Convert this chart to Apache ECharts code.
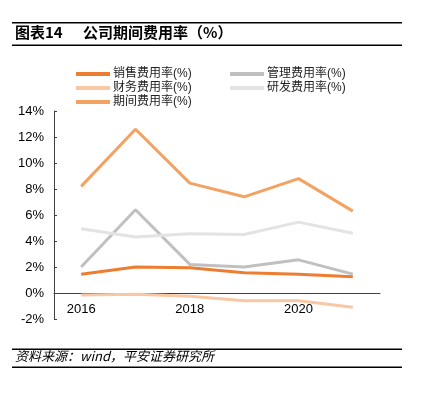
<!DOCTYPE html>
<html>
<head>
<meta charset="utf-8">
<script src="https://cdn.jsdelivr.net/npm/echarts@6/dist/echarts.min.js"></script>
<style>
html,body{margin:0;padding:0;background:#fff;}
#c{width:424px;height:395px;}
</style>
</head>
<body>
<div id="c"></div>
<script>
const categories = ['2016', '2017', '2018', '2019', '2020', '2021'];
const xLabels = ['2016', '', '2018', '', '2020', ''];
const sales = [1.45, 2.0, 1.95, 1.55, 1.45, 1.25];
const admin = [2.0, 6.4, 2.2, 2.0, 2.55, 1.45];
const finance = [-0.15, -0.1, -0.25, -0.6, -0.6, -1.1];
const rnd = [4.95, 4.3, 4.55, 4.5, 5.45, 4.6];
const period = [8.2, 12.6, 8.45, 7.4, 8.8, 6.3];
const yTicks = [-2, 0, 2, 4, 6, 8, 10, 12, 14];

const font = '"Noto Sans CJK SC", "Liberation Sans", sans-serif';
const numFont = '"Liberation Sans", "Noto Sans CJK SC", sans-serif';
const chart = echarts.init(document.getElementById('c'));
const mk = (name, data, color) => ({
  name, type: 'line', data, symbol: 'none', smooth: false,
  lineStyle: { color, width: 3 }, itemStyle: { color }
});
const legendBase = {
  top: 67, orient: 'vertical', itemWidth: 34, itemHeight: 4, itemGap: 0, padding: 0,
  icon: 'rect',
  textStyle: { fontSize: 12, color: '#222', lineHeight: 14, padding: [0, 0, 0, -2], fontFamily: numFont }
};
chart.setOption({
  animation: false,
  textStyle: { fontFamily: font },
  legend: [
    Object.assign({}, legendBase, { left: 76, data: ['销售费用率(%)', '财务费用率(%)', '期间费用率(%)'] }),
    Object.assign({}, legendBase, { left: 230, data: ['管理费用率(%)', '研发费用率(%)'] })
  ],
  grid: { left: 54, right: 44, top: 111, bottom: 76 },
  xAxis: {
    type: 'category', data: categories, boundaryGap: true,
    axisLine: { onZero: true, lineStyle: { color: '#404040', width: 1 } },
    axisTick: { inside: true, length: 3, interval: 0, lineStyle: { color: '#404040' } },
    axisLabel: { color: '#000', fontSize: 13, fontFamily: numFont, margin: -16, interval: 0,
      formatter: (v, i) => xLabels[i] }
  },
  yAxis: {
    type: 'value', min: yTicks[0], max: yTicks[yTicks.length - 1], interval: 2,
    axisLine: { show: true, lineStyle: { color: '#404040', width: 1 } },
    axisTick: { show: true, inside: true, length: 3, lineStyle: { color: '#404040' } },
    splitLine: { show: false },
    axisLabel: { color: '#000', fontSize: 13, fontFamily: numFont, margin: 10, formatter: '{value}%' }
  },
  series: [
    mk('销售费用率(%)', sales, '#ED7D31'),
    mk('管理费用率(%)', admin, '#C0C0C0'),
    mk('财务费用率(%)', finance, '#F8C7A3'),
    mk('研发费用率(%)', rnd, '#E3E3E3'),
    mk('期间费用率(%)', period, '#F4A262')
  ],
  graphic: [
    { type: 'rect', shape: { x: 12, y: 22, width: 390, height: 1.5 }, style: { fill: '#000' } },
    { type: 'rect', shape: { x: 12, y: 44.5, width: 390, height: 1.5 }, style: { fill: '#000' } },
    { type: 'text', left: 15, top: 25, style: { text: '图表14', font: 'bold 15px ' + font, fill: '#000' } },
    { type: 'text', left: 83, top: 25, style: { text: '公司期间费用率（%）', font: 'bold 15px ' + font, fill: '#000' } },
    { type: 'rect', shape: { x: 12, y: 348.5, width: 390, height: 1.5 }, style: { fill: '#000' } },
    { type: 'rect', shape: { x: 12, y: 366.5, width: 390, height: 1.5 }, style: { fill: '#000' } },
    { type: 'text', left: 15, top: 350, style: { text: '资料来源：wind，平安证券研究所', font: 'italic 13px ' + font, fill: '#000' } }
  ]
});
</script>
</body>
</html>
